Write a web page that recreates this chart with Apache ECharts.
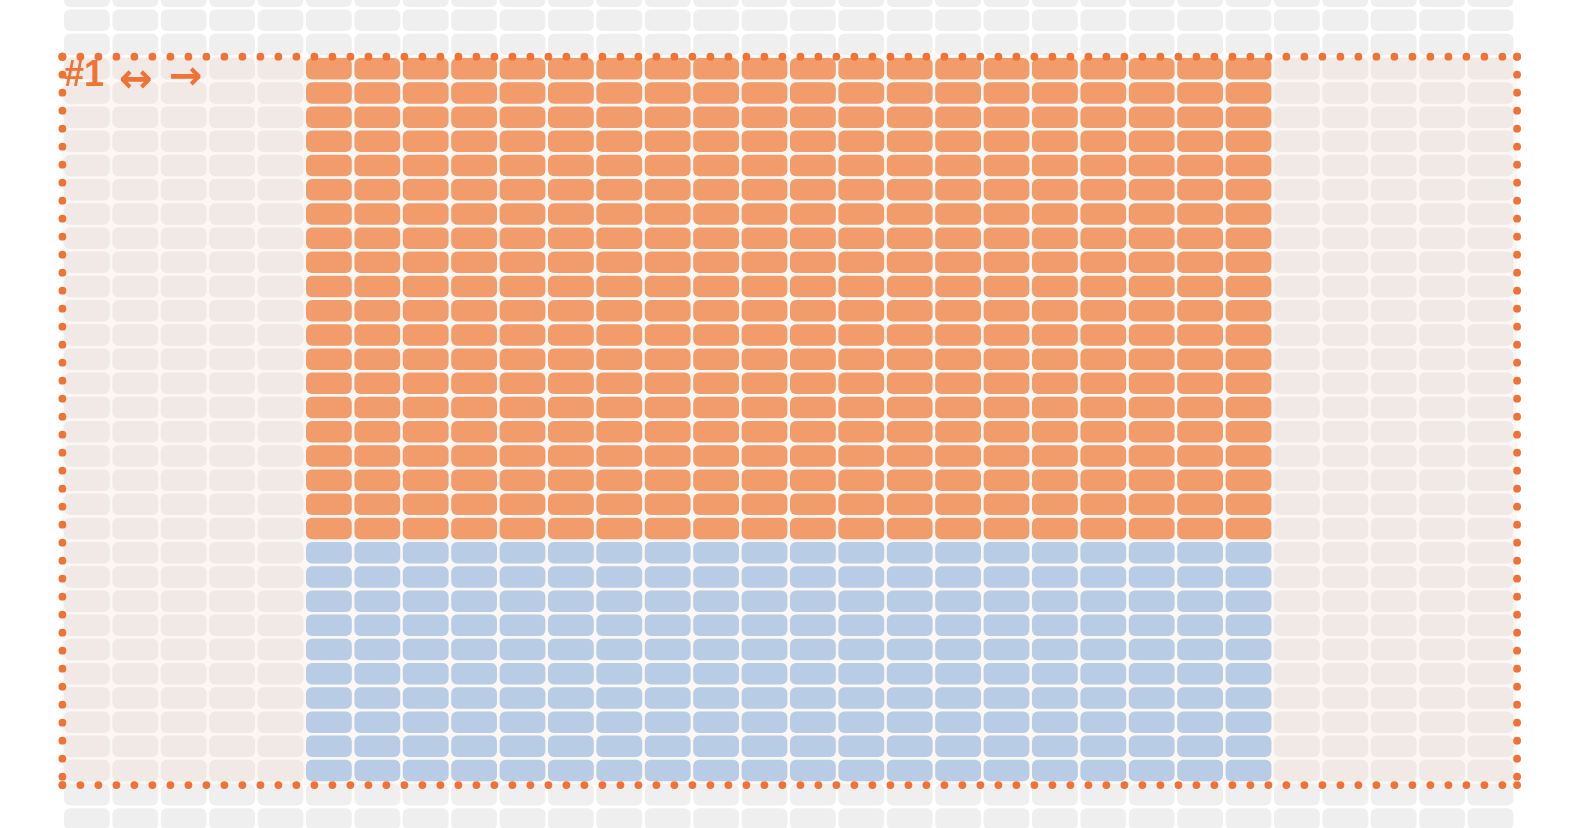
<!DOCTYPE html>
<html>
<head>
<meta charset="utf-8">
<script src="https://cdn.jsdelivr.net/npm/echarts@6/dist/echarts.min.js"></script>
<style>
html,body{margin:0;padding:0;background:#ffffff;}
#chart{width:1584px;height:828px;}
</style>
</head>
<body>
<div id="chart"></div>
<script>
// ---- data ----
const colCount = 30;
const rowCount = 35;
const boxCols = [0, 29];
const boxRows = [3, 32];
const orangeCols = [5, 24];
const orangeRows = [3, 22];
const blueCols = [5, 24];
const blueRows = [23, 32];
const labelText = '#1';
const arrowTexts = ['↔', '→'];

// ---- styles ----
const colors = {
  outside: '#efefef',
  boxCell: '#f0e9e5',
  boxBg: '#fbf7f4',
  orange: '#f19c6a',
  blue: '#b8cce6',
  accent: '#f07235'
};

function inRange(v, r) { return v >= r[0] && v <= r[1]; }

const cells = [];
for (let r = 0; r < rowCount; r++) {
  for (let c = 0; c < colCount; c++) {
    let k = 0;
    if (inRange(c, orangeCols) && inRange(r, orangeRows)) k = 2;
    else if (inRange(c, blueCols) && inRange(r, blueRows)) k = 3;
    else if (inRange(c, boxCols) && inRange(r, boxRows)) k = 1;
    cells.push([c, r, k]);
  }
}
const kindColor = [colors.outside, colors.boxCell, colors.orange, colors.blue];
const boxData = [[boxCols[0], boxRows[0], boxCols[1] + 1, boxRows[1] + 1]];

const chart = echarts.init(document.getElementById('chart'), null, {renderer: 'canvas'});

const gapX = 2.6, gapY = 2.7, radius = 6;
const padR = 2.4, padB = 2.4, padL = 0.3;
// vertical view window (rows partly cut at top and bottom of the page)
const rowPitch = 24.2;
const viewTop = 15.95 / rowPitch;
const viewBottom = viewTop + 828 / rowPitch;

chart.setOption({
  animation: false,
  backgroundColor: '#ffffff',
  grid: {left: 62.7, top: 0, width: 1452, height: 828, containLabel: false, outerBoundsMode: 'none'},
  xAxis: {type: 'value', min: 0, max: colCount, show: false},
  yAxis: {type: 'value', min: viewTop, max: viewBottom, inverse: true, show: false},
  series: [
    {
      type: 'custom',
      z: 1,
      silent: true,
      clip: false,
      data: boxData,
      renderItem: function (params, api) {
        const p0 = api.coord([api.value(0), api.value(1)]);
        const p1 = api.coord([api.value(2), api.value(3)]);
        return {
          type: 'rect',
          shape: {x: p0[0] - padL, y: p0[1], width: p1[0] - p0[0] + padL + padR, height: p1[1] - p0[1] + padB},
          style: {fill: colors.boxBg}
        };
      }
    },
    {
      type: 'custom',
      z: 2,
      silent: true,
      clip: false,
      data: cells,
      renderItem: function (params, api) {
        const c = api.value(0), r = api.value(1), k = api.value(2);
        const p0 = api.coord([c, r]);
        const p1 = api.coord([c + 1, r + 1]);
        return {
          type: 'rect',
          shape: {x: p0[0] + gapX / 2, y: p0[1] + gapY / 2, width: p1[0] - p0[0] - gapX, height: p1[1] - p0[1] - gapY, r: radius},
          style: {fill: kindColor[k]}
        };
      }
    },
    {
      type: 'custom',
      z: 3,
      silent: true,
      clip: false,
      data: boxData,
      renderItem: function (params, api) {
        const p0 = api.coord([api.value(0), api.value(1)]);
        const p1 = api.coord([api.value(2), api.value(3)]);
        const x0 = p0[0] - padL, y0 = p0[1], x1 = p1[0] + padR, y1 = p1[1] + padB;
        const ls = {stroke: colors.accent, lineWidth: 7.8, lineDash: [0, 18], lineCap: 'round', fill: null};
        const segs = [[x0, y0, x1, y0], [x1, y0, x1, y1], [x0, y1, x1, y1], [x0, y0, x0, y1]];
        const children = segs.map(s => ({type: 'line', shape: {x1: s[0], y1: s[1], x2: s[2], y2: s[3]}, style: ls}));
        [[x0, y0], [x1, y0], [x0, y1], [x1, y1]].forEach(p => {
          children.push({type: 'circle', shape: {cx: p[0], cy: p[1], r: 3.9}, style: {fill: colors.accent}});
        });
        return {type: 'group', children: children};
      }
    }
  ],
  graphic: [
    {type: 'text', z: 10, x: 64, y: 76,
      style: {text: labelText, font: 'bold 36px "Liberation Sans", Arial, sans-serif', fill: colors.accent, textAlign: 'left', textVerticalAlign: 'middle'}},
    {type: 'text', z: 10, x: 119, y: 82,
      style: {text: arrowTexts[0], font: 'bold 40px "DejaVu Sans", sans-serif', fill: colors.accent, textAlign: 'left', textVerticalAlign: 'middle'}},
    {type: 'text', z: 10, x: 169, y: 79,
      style: {text: arrowTexts[1], font: 'bold 40px "DejaVu Sans", sans-serif', fill: colors.accent, textAlign: 'left', textVerticalAlign: 'middle'}}
  ]
});
</script>
</body>
</html>
